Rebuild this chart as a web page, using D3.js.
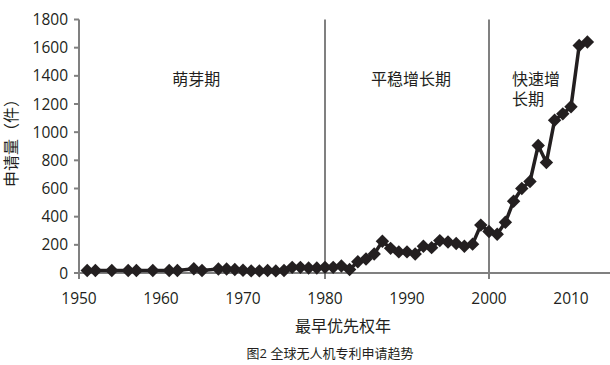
<!DOCTYPE html>
<html>
<head>
<meta charset="utf-8">
<script src="https://cdn.jsdelivr.net/npm/d3@7"></script>
<style>
  body { margin: 0; background: #fff; }
  text { font-family: "Open Sans", "Noto Sans CJK SC", sans-serif; fill: #231f20; }
</style>
</head>
<body>
<div id="chart"></div>
<script>
// years and patent counts
var years = [1951, 1952, 1954, 1956, 1957, 1959, 1961, 1962, 1964, 1965,
  1967, 1968, 1969, 1970, 1971, 1972, 1973, 1974, 1975, 1976, 1977, 1978, 1979,
  1980, 1981, 1982, 1983, 1984, 1985, 1986, 1987, 1988, 1989, 1990,
  1991, 1992, 1993, 1994, 1995, 1996, 1997, 1998, 1999, 2000,
  2001, 2002, 2003, 2004, 2005, 2006, 2007, 2008, 2009, 2010, 2011, 2012]
var counts = [18, 18, 18, 18, 18, 18, 18, 18, 30, 18,
  28, 28, 25, 20, 15, 15, 18, 15, 18, 40, 40, 35, 35,
  40, 40, 50, 25, 80, 100, 135, 225, 175, 150, 150,
  135, 190, 180, 230, 220, 210, 190, 205, 340, 295,
  275, 360, 510, 600, 650, 905, 785, 1085, 1130, 1180, 1615, 1640]
var yTicks = [0, 200, 400, 600, 800, 1000, 1200, 1400, 1600, 1800]
var xTicks = [1950, 1960, 1970, 1980, 1990, 2000, 2010]
var phaseLines = [1980, 2000]
var phases = [
  {lines: ['萌芽期'], x: 1964.3},
  {lines: ['平稳增长期'], x: 1990.5},
  {lines: ['快速增', '长期'], x: 2002.8, anchor: 'start'}
]

var W = 610, H = 365
var svg = d3.select('#chart').append('svg')
  .attr('width', W).attr('height', H)

var x = d3.scaleLinear().domain([1950, 2010]).range([79, 571])
var y = d3.scaleLinear().domain([0, 1800]).range([273, 19.5])
var xEnd = 610

// axes
var axisColor = '#808080'
svg.append('line')
  .attr('x1', x(1950)).attr('x2', x(1950))
  .attr('y1', y(1800)).attr('y2', y(0) + 6)
  .attr('stroke', axisColor).attr('stroke-width', 2)
svg.append('line')
  .attr('x1', x(1950)).attr('x2', xEnd)
  .attr('y1', y(0)).attr('y2', y(0))
  .attr('stroke', axisColor).attr('stroke-width', 2)

svg.selectAll('line.ytick').data(yTicks).enter().append('line')
  .attr('class', 'ytick')
  .attr('x1', x(1950) - 5).attr('x2', x(1950))
  .attr('y1', d => y(d)).attr('y2', d => y(d))
  .attr('stroke', axisColor).attr('stroke-width', 2)

svg.selectAll('text.ylab').data(yTicks).enter().append('text')
  .attr('class', 'ylab')
  .attr('x', 68).attr('y', d => y(d) + 5.5)
  .attr('text-anchor', 'end').attr('font-size', 15.5)
  .text(d => d)

svg.selectAll('text.xlab').data(xTicks).enter().append('text')
  .attr('class', 'xlab')
  .attr('x', d => x(d)).attr('y', y(0) + 31)
  .attr('text-anchor', 'middle').attr('font-size', 15.5)
  .text(d => d)

// phase separators
svg.selectAll('line.phase').data(phaseLines).enter().append('line')
  .attr('class', 'phase')
  .attr('x1', d => x(d)).attr('x2', d => x(d))
  .attr('y1', y(1800)).attr('y2', y(0) + 6)
  .attr('stroke', axisColor).attr('stroke-width', 2)

var ph = svg.selectAll('text.phaseLab').data(phases).enter().append('text')
  .attr('class', 'phaseLab')
  .attr('font-size', 16)
  .attr('text-anchor', d => d.anchor || 'middle')
ph.each(function(d) {
  var t = d3.select(this)
  d.lines.forEach(function(l, i) {
    t.append('tspan').attr('x', x(d.x)).attr('y', 85 + i * 20).text(l)
  })
})

// series
var pts = years.map((d, i) => [d, counts[i]])
svg.append('path')
  .datum(pts)
  .attr('fill', 'none')
  .attr('stroke', '#231f20')
  .attr('stroke-width', 3.5)
  .attr('d', d3.line().x(d => x(d[0])).y(d => y(d[1])))

var diamond = d3.symbol().type(d3.symbolSquare).size(90)
svg.selectAll('path.pt').data(pts).enter().append('path')
  .attr('class', 'pt')
  .attr('d', diamond)
  .attr('fill', '#231f20')
  .attr('transform', d => 'translate(' + x(d[0]) + ',' + y(d[1]) + ') rotate(45)')

// titles
svg.append('text')
  .attr('font-size', 16)
  .attr('text-anchor', 'middle')
  .attr('transform', 'translate(17,' + 139 + ') rotate(-90)')
  .text('申请量（件）')

svg.append('text')
  .attr('font-size', 16)
  .attr('text-anchor', 'middle')
  .attr('x', 343).attr('y', 332)
  .text('最早优先权年')

svg.append('text')
  .attr('font-size', 13)
  .attr('text-anchor', 'middle')
  .attr('x', 330).attr('y', 358)
  .text('图2 全球无人机专利申请趋势')
</script>
</body>
</html>
